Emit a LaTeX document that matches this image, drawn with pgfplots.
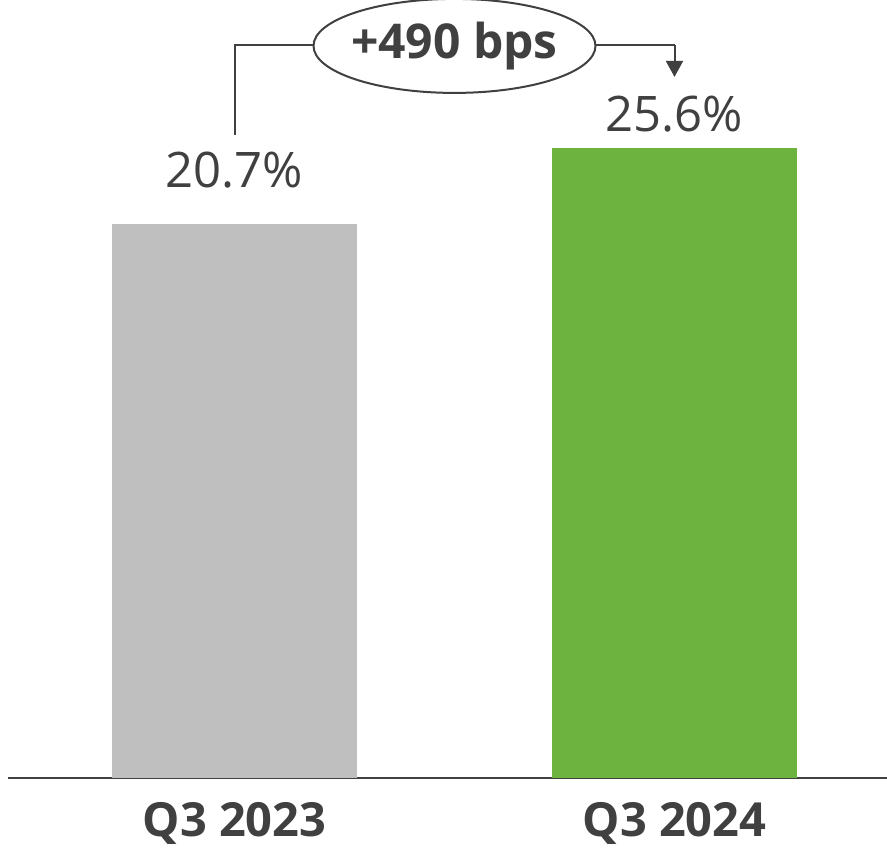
\documentclass[border=0pt]{standalone}
\usepackage{fontspec}
\setmainfont{Open Sans}
\usepackage{pgfplots}
\usepackage{pgfplotstable}
\pgfplotsset{compat=1.18}
\usetikzlibrary{arrows.meta}
\definecolor{barGray}{HTML}{BFBFBF}
\definecolor{barGreen}{HTML}{6DB33F}
\definecolor{txt}{HTML}{404040}
\pgfplotstableread{
x v
0 20.7
}\qa
\pgfplotstableread{
x v
1 25.6
}\qb
\begin{document}
\begin{tikzpicture}
\path[use as bounding box] (0,0) rectangle (443.5pt,423.5pt);
\begin{axis}[
  at={(4pt,34.5pt)}, anchor=south west,
  scale only axis, width=439.5pt, height=389pt,
  xmin=-0.5148, xmax=1.483, ymin=0, ymax=50.16,
  axis x line=bottom, axis y line=none,
  x axis line style={-, color=txt, line width=1pt},
  xtick={0,1}, xticklabels={Q3 2023,Q3 2024},
  major tick length=0pt,
  xticklabel style={font=\fontsize{23.5pt}{28pt}\selectfont\bfseries, text=txt, yshift=-8.5pt},
  ytick=\empty,
  ybar, bar width=122.5pt, bar shift=0pt,
  clip=false,
]
% axis baseline sits at -15.02 on the value scale (chart not drawn to scale)
\addplot[fill=barGray, draw=none] table[x=x, y expr=\thisrow{v}+15.02] {\qa};
\addplot[fill=barGreen, draw=none] table[x=x, y expr=\thisrow{v}+15.02] {\qb};
\coordinate (L1) at (axis cs:0,38.04);
\coordinate (L2) at (axis cs:1,41.65);
\coordinate (A0) at (axis cs:0,41.46);
\coordinate (A1) at (axis cs:0,47.26);
\coordinate (B1) at (axis cs:1,47.26);
\coordinate (B0) at (axis cs:1,45.20);
\coordinate (E) at (axis cs:0.5,47.2);
\end{axis}
\node[anchor=base, text=txt, font=\fontsize{24.5pt}{29pt}\selectfont] at (L1) {20.7\%};
\node[anchor=base, text=txt, font=\fontsize{24.5pt}{29pt}\selectfont] at (L2) {25.6\%};
\draw[txt, line width=1pt] (A0) -- (A1) -- (B1);
\draw[txt, line width=1pt, -{Triangle[length=8pt,width=8.5pt]}] (B1) -- (B0);
\draw[txt, line width=1pt, fill=white] (E) ellipse (70.5pt and 23.5pt);
\node[inner sep=0pt, text=txt, font=\fontsize{24pt}{28pt}\selectfont\bfseries] at (E) {+490 bps};
\end{tikzpicture}
\end{document}
